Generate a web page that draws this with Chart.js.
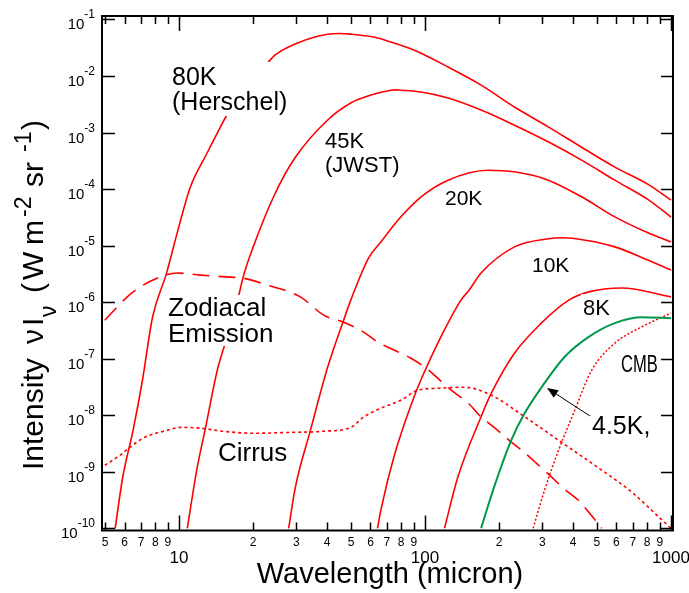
<!DOCTYPE html>
<html>
<head>
<meta charset="utf-8">
<script src="https://cdn.jsdelivr.net/npm/chart.js@4.4.1/dist/chart.umd.min.js"></script>
<style>
  html, body { margin: 0; padding: 0; background: #fff; }
  #wrap { width: 689px; height: 593px; }
</style>
</head>
<body>
<div id="wrap"><canvas id="sed" width="689" height="593"></canvas></div>
<script>
// wavelength (micron) and nu*I_nu (W m^-2 sr^-1)
const wl80 = [5.5, 5.9, 6.5, 7.1, 7.8, 8.9, 9.9, 11.1, 13.0, 14.3, 15.7, 23.1, 24.6, 30.3, 40.2, 45, 49.9, 62, 72.6, 90, 124, 169, 231, 318, 433, 591, 813, 1000];
const i80 = [1e-10, 8.0e-10, 5.4e-9, 4.2e-8, 5.4e-7, 3.3e-6, 1.9e-5, 1.07e-4, 4.35e-4, 9.8e-4, 2.09e-3, 0.0177, 0.0236, 0.0384, 0.0548, 0.0565, 0.0552, 0.0489, 0.040, 0.0288, 0.01445, 6.9e-3, 2.83e-3, 1.25e-3, 5.5e-4, 2.45e-4, 1.19e-4, 6.4e-5];

const wl45 = [10.8, 11.8, 12.8, 14.3, 15.4, 17.3, 18.2, 20.0, 24.6, 29.7, 40.2, 49.9, 60.3, 72.6, 76, 79.8, 96.4, 124, 169, 231, 318, 433, 591, 813, 1000];
const i45 = [1e-10, 1.07e-9, 5.9e-9, 6.25e-8, 1.88e-7, 1.085e-6, 2.74e-6, 9.4e-6, 8.45e-5, 3.65e-4, 1.67e-3, 3.33e-3, 4.6e-3, 5.6e-3, 5.7e-3, 5.62e-3, 5.2e-3, 4.08e-3, 2.5e-3, 1.35e-3, 6.8e-4, 3.26e-4, 1.44e-4, 6.4e-5, 3.2e-5];

const wl20 = [27.9, 29.7, 34.2, 40.2, 46.7, 49.9, 59.0, 66.1, 79.8, 96.4, 124, 180, 231, 317, 433, 591, 810, 1000];
const i20 = [1e-10, 5.3e-10, 5.4e-9, 7.1e-8, 4.85e-7, 1.085e-6, 6.06e-6, 1.16e-5, 3.23e-5, 7.3e-5, 1.44e-4, 2.16e-4, 2.02e-4, 1.44e-4, 7.3e-5, 3.23e-5, 1.67e-5, 1.16e-5];

const wl10 = [64.1, 66.1, 74.7, 90.2, 101, 116, 140, 151, 169, 231, 317, 360, 405, 591, 810, 1000];
const i10 = [1e-10, 2.08e-10, 1.83e-9, 2.1e-8, 6.8e-8, 2.43e-7, 1.085e-6, 1.63e-6, 3.27e-6, 9.5e-6, 1.32e-5, 1.38e-5, 1.34e-5, 9.5e-6, 5.5e-6, 3.69e-6];

const wl8 = [120, 136, 169, 186, 231, 297, 384, 463, 631, 1000];
const i8 = [1e-10, 8.05e-10, 9.4e-9, 2.45e-8, 1.25e-7, 4.25e-7, 1.085e-6, 1.52e-6, 1.78e-6, 1.24e-6];

const wl45b = [169, 191, 224, 254, 306, 369, 463, 591, 762, 1000];
const i45b = [1e-10, 5.4e-10, 3.6e-9, 1.08e-8, 3.7e-8, 1.07e-7, 2.43e-7, 4.25e-7, 5.4e-7, 5.2e-7];

const wlCmb = [275, 306, 349, 406, 476, 591, 762, 1000];
const iCmb = [1e-10, 4.7e-10, 2.4e-9, 1.22e-8, 6.25e-8, 1.88e-7, 3.67e-7, 6.4e-7];

const wlZodi = [4.99, 6.14, 6.93, 8.13, 9.81, 12.2, 16.1, 18.2, 22.9, 31.2, 38.7, 46.7, 56.3, 64.3, 74.7, 87.6, 101, 114, 131, 150, 169, 191, 220, 247, 284, 321, 366, 421, 467, 523];
const iZodi = [4.8e-7, 1.23e-6, 1.84e-6, 2.66e-6, 3.27e-6, 3.01e-6, 2.77e-6, 2.66e-6, 2.0e-6, 1.23e-6, 5.9e-7, 4.4e-7, 2.95e-7, 1.96e-7, 1.42e-7, 1.02e-7, 6.8e-8, 4.3e-8, 2.55e-8, 1.63e-8, 9.3e-9, 6.1e-9, 3.6e-9, 2.4e-9, 1.41e-9, 8.7e-10, 5.1e-10, 3.1e-10, 1.84e-10, 1e-10];

const wlCirrus = [4.99, 5.74, 6.31, 7.26, 8.93, 10.1, 12.2, 15.1, 20.0, 28.4, 38.7, 49.9, 56.3, 66.1, 79.8, 93.5, 113, 144, 186, 254, 365, 490, 693, 891, 1000];
const iCirrus = [1.3e-9, 1.95e-9, 2.71e-9, 4.08e-9, 5.4e-9, 6.1e-9, 5.9e-9, 5.2e-9, 4.8e-9, 4.97e-9, 5.2e-9, 6.1e-9, 9.3e-9, 1.33e-8, 1.84e-8, 2.77e-8, 3.0e-8, 3.13e-8, 2.26e-8, 9.4e-9, 3.15e-9, 1.3e-9, 4.36e-10, 1.59e-10, 1e-10];

// axis ticks
const xMinorTicks = [5, 6, 7, 8, 9, 20, 30, 40, 50, 60, 70, 80, 90, 200, 300, 400, 500, 600, 700, 800, 900];
const xMajorTicks = [10, 100, 1000];
const yTickExps = [-10, -9, -8, -7, -6, -5, -4, -3, -2, -1];

const FONT = '"Liberation Sans", Arial, Helvetica, sans-serif';
const RED = '#ff0000';

function curve(label, xs, ys, color, width, dash) {
  return {
    label: label,
    data: xs.map((x, i) => ({ x: x, y: ys[i] })),
    borderColor: color,
    borderWidth: width,
    borderDash: dash || [],
    pointRadius: 0,
    fill: false,
    cubicInterpolationMode: 'monotone'
  };
}

// text annotations; box = white patch behind the text like the original
const notes = [
  { lines: ['80K', '(Herschel)'], x: 172, y: 85, dy: 25, size: 25, box: [170, 62, 302, 116] },
  { lines: ['45K', '(JWST)'], x: 325, y: 148, dy: 24, size: 22 },
  { lines: ['20K'], x: 445, y: 205, size: 21 },
  { lines: ['10K'], x: 532, y: 272, size: 21 },
  { lines: ['8K'], x: 583, y: 315, size: 22, box: [581, 294, 610, 318] },
  { lines: ['CMB'], x: 621, y: 372, size: 23, squeeze: 0.72 },
  { lines: ['4.5K,'], x: 592, y: 434, size: 25 },
  { lines: ['Zodiacal', 'Emission'], x: 168, y: 316, dy: 26, size: 26, box: [166, 295, 272, 346] },
  { lines: ['Cirrus'], x: 218, y: 461, size: 26 }
];

// y title pieces: text, font size, offset along the text, baseline shift
const yTitle = [
  ['Intensity', 30, 0, 0],
  ['\u03BD', 30, 126, 0],
  ['I', 30, 144, 0],
  ['\u03BD', 23, 153, 13],
  ['(', 30, 177, 0],
  ['W', 30, 190, 0],
  ['m', 30, 225, 0],
  ['-2', 23, 253, -12],
  ['sr', 30, 283, 0],
  ['-1', 23, 318, -12],
  [')', 30, 340, 0]
];

const framePlugin = {
  id: 'frame',
  afterDatasetsDraw(chart) {
    const ctx = chart.ctx;
    const xs = chart.scales.x, ys = chart.scales.y;
    const a = chart.chartArea;
    ctx.save();

    // labels
    notes.forEach(n => {
      if (n.box) {
        ctx.fillStyle = '#fff';
        ctx.fillRect(n.box[0], n.box[1], n.box[2] - n.box[0], n.box[3] - n.box[1]);
      }
      ctx.fillStyle = '#000';
      ctx.font = n.size + 'px ' + FONT;
      ctx.textAlign = 'left';
      ctx.textBaseline = 'alphabetic';
      n.lines.forEach((t, i) => {
        ctx.save();
        ctx.translate(n.x, n.y + i * (n.dy || 0));
        if (n.squeeze) ctx.scale(n.squeeze, 1);
        ctx.fillText(t, 0, 0);
        ctx.restore();
      });
    });

    // arrow to the 4.5K curve
    ctx.strokeStyle = '#000';
    ctx.fillStyle = '#000';
    ctx.lineWidth = 1;
    const x0 = 590, y0 = 416, x1 = 547, y1 = 388;
    const ang = Math.atan2(y1 - y0, x1 - x0);
    ctx.beginPath();
    ctx.moveTo(x0, y0);
    ctx.lineTo(x1 - 8 * Math.cos(ang), y1 - 8 * Math.sin(ang));
    ctx.stroke();
    ctx.beginPath();
    ctx.moveTo(x1, y1);
    ctx.lineTo(x1 - 11 * Math.cos(ang) + 4.5 * Math.sin(ang), y1 - 11 * Math.sin(ang) - 4.5 * Math.cos(ang));
    ctx.lineTo(x1 - 11 * Math.cos(ang) - 4.5 * Math.sin(ang), y1 - 11 * Math.sin(ang) + 4.5 * Math.cos(ang));
    ctx.closePath();
    ctx.fill();

    // frame box
    ctx.lineWidth = 2;
    ctx.strokeRect(a.left, a.top, a.right - a.left, a.bottom - a.top);

    // x ticks, bottom and top
    ctx.lineWidth = 1.5;
    const xt = xMinorTicks.map(v => [v, 8]).concat(xMajorTicks.map(v => [v, 15]));
    xt.forEach(([v, len]) => {
      const px = Math.round(xs.getPixelForValue(v)) + 0.5;
      ctx.beginPath();
      ctx.moveTo(px, a.bottom);
      ctx.lineTo(px, a.bottom - len);
      ctx.moveTo(px, a.top);
      ctx.lineTo(px, a.top + len);
      ctx.stroke();
    });
    // y ticks, left and right
    yTickExps.forEach(e => {
      const py = Math.round(ys.getPixelForValue(Math.pow(10, e))) + 0.5;
      ctx.beginPath();
      ctx.moveTo(a.left, py);
      ctx.lineTo(a.left + 13, py);
      ctx.moveTo(a.right, py);
      ctx.lineTo(a.right - 12, py);
      ctx.stroke();
    });

    // x tick labels
    ctx.textAlign = 'center';
    ctx.font = '12px ' + FONT;
    xMinorTicks.forEach(v => {
      ctx.fillText(String(v)[0], xs.getPixelForValue(v), 546);
    });
    ctx.font = '17px ' + FONT;
    xMajorTicks.forEach(v => {
      ctx.fillText(String(v), xs.getPixelForValue(v), 563);
    });

    // y tick labels: 10 with superscript exponent
    yTickExps.forEach(e => {
      const py = ys.getPixelForValue(Math.pow(10, e));
      ctx.textAlign = 'right';
      ctx.font = '12px ' + FONT;
      const sup = String(e);
      const sw = ctx.measureText(sup).width;
      ctx.fillText(sup, 95, py - 1);
      ctx.font = '15px ' + FONT;
      ctx.fillText('10', 95 - sw, py + 10);
    });

    // axis titles
    ctx.textAlign = 'center';
    ctx.font = '29px ' + FONT;
    ctx.fillText('Wavelength (micron)', 390, 583);

    ctx.save();
    ctx.translate(43, 470);
    ctx.rotate(-Math.PI / 2);
    ctx.textAlign = 'left';
    yTitle.forEach(([t, s, pos, off]) => {
      ctx.font = s + 'px ' + FONT;
      ctx.fillText(t, pos, off);
    });
    ctx.restore();

    ctx.restore();
  }
};

new Chart(document.getElementById('sed'), {
  type: 'line',
  data: {
    datasets: [
      curve('80K', wl80, i80, RED, 1.6),
      curve('45K', wl45, i45, RED, 1.6),
      curve('20K', wl20, i20, RED, 1.6),
      curve('10K', wl10, i10, RED, 1.6),
      curve('8K', wl8, i8, RED, 1.6),
      curve('4.5K', wl45b, i45b, '#00994a', 2),
      curve('CMB', wlCmb, iCmb, RED, 1.5, [2, 2]),
      curve('Zodiacal', wlZodi, iZodi, RED, 1.6, [17, 9]),
      curve('Cirrus', wlCirrus, iCirrus, RED, 1.6, [3, 3])
    ]
  },
  options: {
    responsive: false,
    animation: false,
    events: [],
    layout: { padding: { left: 102, top: 16, right: 16, bottom: 62.5 } },
    plugins: { legend: { display: false }, tooltip: { enabled: false } },
    scales: {
      x: { type: 'logarithmic', min: 4.86, max: 1019, display: false },
      y: { type: 'logarithmic', min: 9.14e-11, max: 0.1153, display: false }
    }
  },
  plugins: [framePlugin]
});
</script>
</body>
</html>
